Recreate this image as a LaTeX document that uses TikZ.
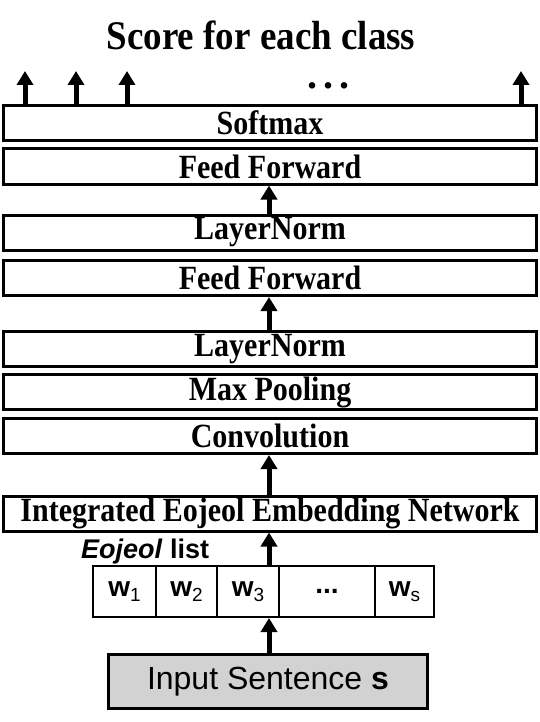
\documentclass[tikz,border=0pt]{standalone}
\usepackage{fontspec}
\usepackage{graphicx}
\setmainfont{Liberation Serif}
\newfontfamily\sansf{Liberation Sans}
\usetikzlibrary{arrows.meta}
\newcommand{\tall}[1]{\scalebox{1}[1.13]{#1}}
\tikzset{
  layerbox/.style={draw, line width=3pt, minimum width=533pt, minimum height=35pt, inner sep=0pt,
    font=\fontsize{30}{36}\selectfont\bfseries},
  cellbox/.style={draw, line width=2pt, minimum height=51pt, inner sep=0pt,
    font=\sansf\fontsize{28}{32}\selectfont},
  inbox/.style={draw, line width=3pt, fill=gray!35, minimum width=319pt, minimum height=54pt, inner sep=0pt,
    font=\sansf\fontsize{32}{38}\selectfont},
  arr/.style={line width=5pt, -{Triangle[width=16pt,length=14pt]}},
}
\newcommand{\wsub}[1]{\textbf{w}\raisebox{-5pt}{\fontsize{19}{19}\selectfont #1}}
\begin{document}
\begin{tikzpicture}[x=1pt,y=-1pt]
\useasboundingbox (0,0) rectangle (540,722);
% title
\node[anchor=base, inner sep=0pt, font=\fontsize{37}{44}\selectfont\bfseries] (title) at (261,50) {\scalebox{1}[1.1]{Score for each class}};
\node[anchor=base, inner sep=0pt, font=\fontsize{40}{44}\selectfont\bfseries] (dots) at (328,89) {.\hspace{6pt}.\hspace{6pt}.};
% layers
\node[layerbox] (soft) at (270,123) {\tall{Softmax}};
\node[layerbox] (ff1)  at (270,166.5) {\tall{Feed Forward}};
\node[layerbox] (ln1)  at (270,232.5) {\tall{LayerNorm}};
\node[layerbox] (ff2)  at (270,278) {\tall{Feed Forward}};
\node[layerbox] (ln2)  at (270,349) {\tall{LayerNorm}};
\node[layerbox] (mp)   at (270,392) {\tall{Max Pooling}};
\node[layerbox] (conv) at (270,436) {\tall{Convolution}};
\node[layerbox] (ieen) at (270,513.5) {\tall{Integrated Eojeol Embedding Network}};
% eojeol list
\node[anchor=base west, inner sep=0pt, font=\sansf\fontsize{27}{30}\selectfont\bfseries] (elist) at (81,558) {\textit{Eojeol} list};
\node[cellbox, minimum width=63pt] (w1) at (124.5,591.5) {\wsub{1}};
\node[cellbox, minimum width=61pt] (w2) at (186.5,591.5) {\wsub{2}};
\node[cellbox, minimum width=62pt] (w3) at (248,591.5) {\wsub{3}};
\node[cellbox, minimum width=96pt] (wd) at (327,591.5) {\textbf{...}};
\node[cellbox, minimum width=59pt] (ws) at (404.5,591.5) {\wsub{s}};
% input
\node[inbox] (inp) at (268,681.5) {Input Sentence \textbf{s}};
% arrow axis
\coordinate (ax) at (269,0);
\draw[arr] (inp.north -| ax) -- (w3.south -| ax);
\draw[arr] (w3.north -| ax) -- (ieen.south -| ax);
\draw[arr] (ieen.north -| ax) -- (conv.south -| ax);
\draw[arr] (ln2.north -| ax) -- (ff2.south -| ax);
\draw[arr] (ln1.north -| ax) -- (ff1.south -| ax);
% top output arrows
\coordinate (t1) at (25,71);
\coordinate (t2) at (76,71);
\coordinate (t3) at (127,71);
\coordinate (t4) at (521,71);
\foreach \t in {t1,t2,t3,t4} \draw[arr] (soft.north -| \t) -- (\t);
\end{tikzpicture}
\end{document}
